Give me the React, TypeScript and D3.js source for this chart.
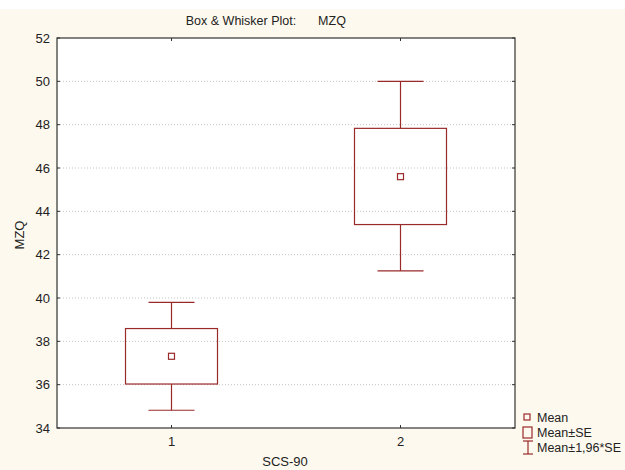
import React from "react";
import * as d3 from "d3";

const categories = ["1", "2"];
const means = [37.31, 45.6];
const seLow = [36.03, 43.39];
const seHigh = [38.59, 47.83];
const ciLow = [34.82, 41.25];
const ciHigh = [39.8, 50.0];
const yTicks = [34, 36, 38, 40, 42, 44, 46, 48, 50, 52];
const legendLabels = ["Mean", "Mean±SE", "Mean±1,96*SE"];

const W = 625, H = 470;
const L = 57, R = 515, T = 38, B = 428;
const RED = "#9a2a2a";
const FONT = "Liberation Sans, Arial, sans-serif";

export default function App() {
  const x = d3.scaleLinear().domain([0.5, categories.length + 0.5]).range([L, R]);
  const y = d3.scaleLinear().domain([34, 52]).range([B, T]);
  const boxHalf = 46, capHalf = 23;
  return (
    <svg width={W} height={H} style={{ position: "fixed", left: 0, top: 0 }} fontFamily={FONT}>
      <rect x={0} y={0} width={W} height={H} fill="#ffffff" />
      <rect x={0} y={9} width={W} height={H - 9} fill="#fef9ee" />
      <rect x={L} y={T} width={R - L} height={B - T} fill="#ffffff" />
      {yTicks.filter(t => t !== 34 && t !== 52).map(t => (
        <line key={"g" + t} x1={L} x2={R} y1={y(t)} y2={y(t)} stroke="#c4c4c4" strokeWidth={1} strokeDasharray="1,2" />
      ))}
      {yTicks.map(t => (
        <g key={"t" + t}>
          <line x1={L} x2={L + 3} y1={y(t)} y2={y(t)} stroke="#333" />
          <line x1={R - 3} x2={R} y1={y(t)} y2={y(t)} stroke="#333" />
          <text x={50} y={y(t) + 4.6} textAnchor="end" fontSize={13} fill="#222">{t}</text>
        </g>
      ))}
      {categories.map((c, i) => (
        <g key={"x" + c}>
          <line x1={x(i + 1)} x2={x(i + 1)} y1={B} y2={B - 3} stroke="#333" />
          <line x1={x(i + 1)} x2={x(i + 1)} y1={T} y2={T + 3} stroke="#333" />
          <text x={x(i + 1)} y={446} textAnchor="middle" fontSize={13} fill="#222">{c}</text>
        </g>
      ))}
      {categories.map((c, i) => {
        const cx = x(i + 1);
        return (
          <g key={"b" + c} stroke={RED} fill="none" strokeWidth={1.2}>
            <line x1={cx} x2={cx} y1={y(ciHigh[i])} y2={y(seHigh[i])} />
            <line x1={cx} x2={cx} y1={y(seLow[i])} y2={y(ciLow[i])} />
            <line x1={cx - capHalf} x2={cx + capHalf} y1={y(ciHigh[i])} y2={y(ciHigh[i])} />
            <line x1={cx - capHalf} x2={cx + capHalf} y1={y(ciLow[i])} y2={y(ciLow[i])} />
            <rect x={cx - boxHalf} y={y(seHigh[i])} width={boxHalf * 2} height={y(seLow[i]) - y(seHigh[i])} />
            <rect x={cx - 3} y={y(means[i]) - 3} width={6} height={6} />
          </g>
        );
      })}
      <rect x={L} y={T} width={R - L} height={B - T} fill="none" stroke="#333" strokeWidth={1.2} />
      <text x={241} y={25} fontSize={12.5} fill="#222" textAnchor="middle">Box &amp; Whisker Plot:</text>
      <text x={332} y={25} fontSize={12.5} fill="#222" textAnchor="middle">MZQ</text>
      <text x={285} y={466} fontSize={13} fill="#222" textAnchor="middle">SCS-90</text>
      <text transform={`translate(24,235) rotate(-90)`} fontSize={13} fill="#222" textAnchor="middle">MZQ</text>
      <g stroke={RED} fill="none" strokeWidth={1.2}>
        <rect x={524} y={414} width={6} height={6} />
        <rect x={523} y={427} width={9} height={11} />
        <line x1={523} x2={533} y1={441} y2={441} />
        <line x1={528} x2={528} y1={441} y2={454} />
        <line x1={523} x2={533} y1={454} y2={454} />
      </g>
      {legendLabels.map((l, i) => (
        <text key={l} x={537} y={422 + i * 15} fontSize={12.5} fill="#222">{l}</text>
      ))}
    </svg>
  );
}
